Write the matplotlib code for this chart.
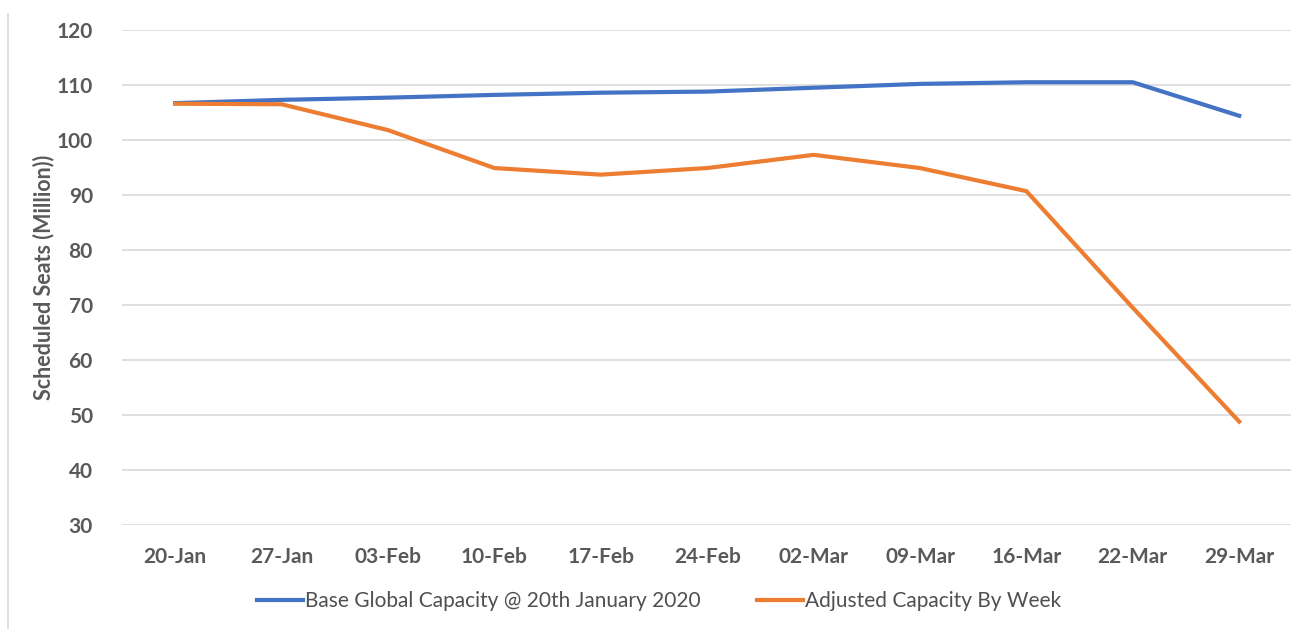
import matplotlib
matplotlib.use('Agg')
import matplotlib.pyplot as plt
from matplotlib.lines import Line2D
import numpy as np

weeks = ['20-Jan', '27-Jan', '03-Feb', '10-Feb', '17-Feb', '24-Feb',
         '02-Mar', '09-Mar', '16-Mar', '22-Mar', '29-Mar']
base_capacity = [106.7, 107.3, 107.7, 108.2, 108.6, 108.8, 109.5, 110.2, 110.5, 110.5, 104.4]
adjusted_capacity = [106.6, 106.5, 101.8, 94.9, 93.7, 94.9, 97.3, 94.9, 90.7, 69.5, 48.8]
yticks = [30, 40, 50, 60, 70, 80, 90, 100, 110, 120]

base_label = 'Base Global Capacity @ 20th January 2020'
adj_label = 'Adjusted Capacity By Week'

W, H = 1291, 629
fig = plt.figure(figsize=(W / 100, H / 100), dpi=100)
ax = fig.add_axes([122 / W, 1 - 525 / H, 1170.4 / W, 495 / H])

x = np.arange(len(weeks))
ax.plot(x, base_capacity, color='#4472C4', lw=3, label=base_label, solid_joinstyle='round')
ax.plot(x, adjusted_capacity, color='#ED7D31', lw=3, label=adj_label, solid_joinstyle='round')

ax.set_xlim(-0.5, len(weeks) - 0.5)
ax.set_ylim(30, 120)
ax.set_yticks(yticks)
ax.set_xticks(x)
ax.set_xticklabels(weeks)
ax.grid(axis='y', color='#D9D9D9', lw=1.2)
ax.set_axisbelow(True)
for s in ax.spines.values():
    s.set_visible(False)
ax.tick_params(length=0)
ax.tick_params(axis='x', pad=16)
ax.tick_params(axis='y', pad=21)
for lab in ax.get_xticklabels() + ax.get_yticklabels():
    lab.set_fontfamily('Lato')
    lab.set_fontweight('bold')
    lab.set_fontsize(15)
    lab.set_color('#595959')

fig.text(44 / W, 1 - 277 / H, 'Scheduled Seats (Million))', rotation=90,
         ha='center', va='center', fontsize=15.5, family='Lato',
         fontweight='bold', color='#595959')

handles = [Line2D([], [], color='#4472C4', lw=3),
           Line2D([], [], color='#ED7D31', lw=3)]
fig.legend(handles, [base_label, adj_label], loc='center',
           bbox_to_anchor=(659 / W, 1 - 601 / H), ncol=2, frameon=False,
           prop={'family': 'Lato', 'size': 15}, labelcolor='#505050',
           handlelength=2.2, handletextpad=0.1, columnspacing=2.7)

# chart area border on the left
fig.add_artist(Line2D([8 / W, 8 / W], [0, 1 - 14 / H], color='#D9D9D9', lw=1.2))

fig.savefig('out.png', dpi=100)
